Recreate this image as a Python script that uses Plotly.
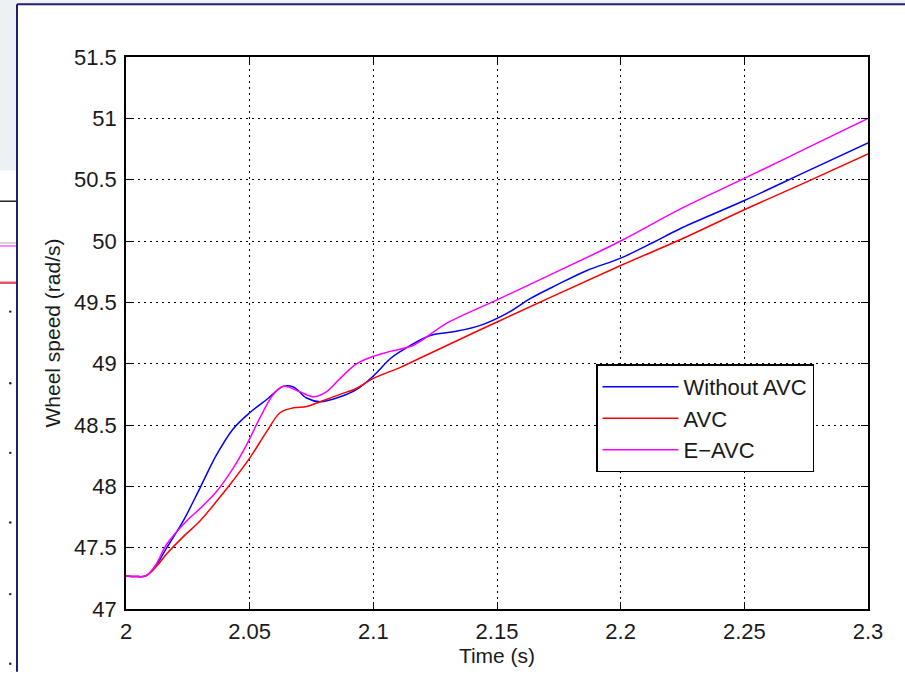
import plotly.graph_objects as go

# ---------------- data ----------------
t_without = [2.000, 2.004, 2.008, 2.012, 2.0165, 2.0232, 2.030, 2.0367, 2.0434, 2.050,
             2.057, 2.0636, 2.0677, 2.073, 2.0785, 2.0866, 2.0933, 2.100, 2.1068, 2.111,
             2.123, 2.1324, 2.143, 2.154, 2.1634, 2.174, 2.1864, 2.200, 2.2133, 2.224,
             2.250, 2.275, 2.300]
v_without = [47.27, 47.265, 47.27, 47.35, 47.50, 47.72, 47.99, 48.26, 48.47, 48.60,
             48.71, 48.815, 48.81, 48.72, 48.69, 48.73, 48.79, 48.90, 49.04, 49.10,
             49.23, 49.26, 49.31, 49.41, 49.53, 49.64, 49.76, 49.86, 49.99, 50.10,
             50.33, 50.565, 50.80]

t_avc = [2.000, 2.004, 2.008, 2.012, 2.0165, 2.0232, 2.030, 2.0367, 2.0434, 2.050,
         2.057, 2.0623, 2.0677, 2.073, 2.0785, 2.0866, 2.0933, 2.100, 2.111, 2.1162,
         2.150, 2.200, 2.224, 2.250, 2.275, 2.300]
v_avc = [47.27, 47.265, 47.27, 47.34, 47.45, 47.59, 47.72, 47.88, 48.05, 48.23,
         48.45, 48.60, 48.64, 48.65, 48.69, 48.75, 48.80, 48.88, 48.97, 49.02,
         49.34, 49.80, 50.01, 50.255, 50.48, 50.71]

t_eavc = [2.000, 2.004, 2.008, 2.012, 2.0165, 2.0246, 2.030, 2.0367, 2.0434, 2.0488,
          2.0542, 2.0596, 2.0636, 2.0704, 2.0758, 2.081, 2.0866, 2.0933, 2.100, 2.1068,
          2.1162, 2.1297, 2.150, 2.170, 2.200, 2.224, 2.250, 2.275, 2.300]
v_eavc = [47.27, 47.265, 47.27, 47.36, 47.53, 47.72, 47.82, 47.96, 48.15, 48.34,
          48.56, 48.75, 48.815, 48.77, 48.73, 48.77, 48.88, 49.00, 49.06, 49.10,
          49.15, 49.33, 49.52, 49.71, 50.00, 50.26, 50.51, 50.755, 51.00]

series_names = ["Without AVC", "AVC", "E\u2212AVC"]
x_ticks = [2.0, 2.05, 2.1, 2.15, 2.2, 2.25, 2.3]
x_tick_labels = ["2", "2.05", "2.1", "2.15", "2.2", "2.25", "2.3"]
y_ticks = [47, 47.5, 48, 48.5, 49, 49.5, 50, 50.5, 51, 51.5]
y_tick_labels = ["47", "47.5", "48", "48.5", "49", "49.5", "50", "50.5", "51", "51.5"]

# ---------------- layout geometry ----------------
W, H = 905, 675
L, R, T, B = 126, 868, 57, 612

def px(xp):
    return (xp - L) / (R - L)

def py(yp):
    return (B - yp) / (B - T)

FONT = "Liberation Sans, Arial, sans-serif"
TXT = "#1a1a1a"

fig = go.Figure()
for t, v, name, col in [(t_without, v_without, series_names[0], "#0000ff"),
                        (t_avc, v_avc, series_names[1], "#ff0000"),
                        (t_eavc, v_eavc, series_names[2], "#ff00ff")]:
    fig.add_trace(go.Scatter(x=t, y=v, mode="lines", name=name,
                             line=dict(color=col, width=1.5, shape="spline", smoothing=1.0)))

axis_common = dict(
    showline=True, linecolor="black", linewidth=1.5, mirror="ticks",
    ticks="inside", ticklen=7, tickwidth=1.2, tickcolor="black",
    showgrid=True, gridcolor="black", gridwidth=1.2, griddash="2px,4px",
    zeroline=False, tickfont=dict(family=FONT, size=22, color=TXT),
)

fig.update_layout(
    width=W, height=H,
    margin=dict(l=L, r=W - R, t=T, b=H - B),
    paper_bgcolor="white", plot_bgcolor="white",
    showlegend=True,
    legend=dict(x=px(596), y=py(366), xanchor="left", yanchor="top",
                bgcolor="white", bordercolor="black", borderwidth=1.5,
                font=dict(family=FONT, size=22, color=TXT),
                itemwidth=76, tracegroupgap=0),
    xaxis=dict(range=[2.0, 2.3], tickvals=x_ticks, ticktext=x_tick_labels,
               title=dict(text="Time (s)", font=dict(family=FONT, size=21, color=TXT), standoff=4),
               ticklabelstandoff=2, **axis_common),
    yaxis=dict(range=[47, 51.5], tickvals=y_ticks, ticktext=y_tick_labels,
               title=dict(text="Wheel speed (rad/s)", font=dict(family=FONT, size=21, color=TXT), standoff=8),
               ticklabelstandoff=3, **axis_common),
)

# ---------------- surrounding screenshot decoration ----------------
shapes = []
shapes.append(dict(type="rect", xref="paper", yref="paper", x0=px(0), x1=px(17), y0=py(0), y1=py(171),
                   fillcolor="#eef1f4", line=dict(width=0), layer="below"))
shapes.append(dict(type="rect", xref="paper", yref="paper", x0=px(0), x1=px(905), y0=py(0), y1=py(4),
                   fillcolor="#eef1f4", line=dict(width=0), layer="below"))
shapes.append(dict(type="line", xref="paper", yref="paper", x0=px(17), x1=px(905), y0=py(4), y1=py(4),
                   line=dict(color="#1f2170", width=2)))
shapes.append(dict(type="line", xref="paper", yref="paper", x0=px(17), x1=px(17), y0=py(4), y1=py(675),
                   line=dict(color="#1f2170", width=2)))
shapes.append(dict(type="line", xref="paper", yref="paper", x0=px(0), x1=px(16), y0=py(202), y1=py(202),
                   line=dict(color="#222222", width=1.5)))
shapes.append(dict(type="line", xref="paper", yref="paper", x0=px(0), x1=px(16), y0=py(244), y1=py(244),
                   line=dict(color="#c8c8c8", width=1.5)))
shapes.append(dict(type="line", xref="paper", yref="paper", x0=px(0), x1=px(16), y0=py(247), y1=py(247),
                   line=dict(color="#ff66ff", width=1.5)))
shapes.append(dict(type="line", xref="paper", yref="paper", x0=px(0), x1=px(16), y0=py(284), y1=py(284),
                   line=dict(color="#e8506a", width=2.5)))
for dy in [313, 385, 455, 525, 597, 667]:
    shapes.append(dict(type="circle", xref="paper", yref="paper",
                       x0=px(9), x1=px(11.5), y0=py(dy - 1.2), y1=py(dy + 1.2),
                       fillcolor="#222222", line=dict(width=0)))
fig.update_layout(shapes=shapes)

fig.write_html("out.html")
